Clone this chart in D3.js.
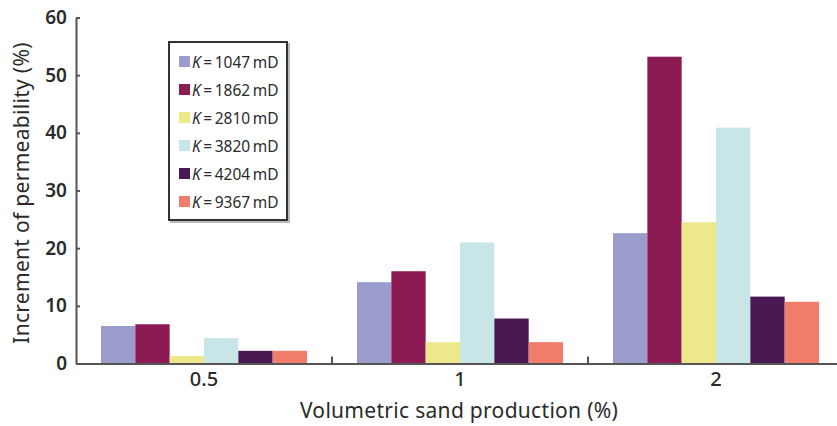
<!DOCTYPE html>
<html>
<head>
<meta charset="utf-8">
<script src="https://cdn.jsdelivr.net/npm/d3@7"></script>
<style>
  body { margin: 0; background: #fff; }
  text { font-family: "Noto Sans", "Open Sans", Arial, sans-serif; fill: #2b2b2b; }
</style>
</head>
<body>
<div id="chart"></div>
<script>
// categories and series
var categories = ['0.5', '1', '2'];
var seriesNames = ['1047', '1862', '2810', '3820', '4204', '9367'];
var seriesColors = ['#9a9ccb', '#8b1b52', '#efe88a', '#c8e6e8', '#4a1852', '#f07c6a'];
var yTicks = [0, 10, 20, 30, 40, 50, 60];

// values per series, one per category
var k1047 = [6.5, 14.1, 22.6];
var k1862 = [6.8, 16.0, 53.2];
var k2810 = [1.3, 3.7, 24.5];
var k3820 = [4.4, 21.0, 40.9];
var k4204 = [2.2, 7.8, 11.6];
var k9367 = [2.2, 3.7, 10.7];
var values = [k1047, k1862, k2810, k3820, k4204, k9367];

var w = 837, h = 426;

var svg = d3.select('#chart').append('svg')
  .attr('width', w)
  .attr('height', h);

var x0 = d3.scaleBand()
  .domain(categories)
  .range([76, 844])
  .padding(0);

var x1 = d3.scaleBand()
  .domain(seriesNames)
  .range([25, x0.bandwidth() - 25])
  .padding(0);

var y = d3.scaleLinear()
  .domain([0, 60])
  .range([363.5, 17.5]);

// bars
var data = [];
values.forEach(function(vals, s) {
  vals.forEach(function(v, c) {
    data.push({ cat: categories[c], name: seriesNames[s], color: seriesColors[s], value: v });
  });
});

svg.append('g').selectAll('rect')
  .data(data)
  .enter().append('rect')
  .attr('x', function(d) { return x0(d.cat) + x1(d.name); })
  .attr('y', function(d) { return y(d.value); })
  .attr('width', x1.bandwidth())
  .attr('height', function(d) { return y(0) - y(d.value); })
  .attr('fill', function(d) { return d.color; });

// y axis
var yAxis = svg.append('g')
  .attr('transform', 'translate(76,0)')
  .call(d3.axisLeft(y).tickValues(yTicks).tickSizeInner(-4).tickSizeOuter(0).tickPadding(9));
yAxis.select('.domain').attr('stroke', '#555').attr('stroke-width', 2);
yAxis.selectAll('.tick line').attr('stroke', '#555').attr('stroke-width', 2);
yAxis.selectAll('.tick text')
  .style('font-size', '19px')
  .style('font-weight', '600')
  .attr('fill', '#333');

// x axis
var xAxis = svg.append('g')
  .attr('transform', 'translate(0,' + y(0) + ')')
  .call(d3.axisBottom(x0).tickSize(0).tickPadding(8));
xAxis.select('.domain').attr('stroke', '#555').attr('stroke-width', 2);
xAxis.selectAll('.tick text')
  .style('font-size', '20px')
  .style('font-weight', '500')
  .attr('fill', '#333');

// separators between categories
svg.append('g').selectAll('line')
  .data(categories.slice(1))
  .enter().append('line')
  .attr('x1', function(d) { return x0(d); })
  .attr('x2', function(d) { return x0(d); })
  .attr('y1', y(0) - 7)
  .attr('y2', y(0))
  .attr('stroke', '#555')
  .attr('stroke-width', 2);

// axis titles
svg.append('text')
  .attr('transform', 'translate(29,' + 193 + ') rotate(-90)')
  .attr('text-anchor', 'middle')
  .style('font-size', '21px')
  .style('letter-spacing', '0.3px')
  .text('Increment of permeability (%)');

svg.append('text')
  .attr('x', 459)
  .attr('y', 418)
  .attr('text-anchor', 'middle')
  .style('font-size', '21px')
  .style('letter-spacing', '0.3px')
  .text('Volumetric sand production (%)');

// legend
var legend = svg.append('g').attr('transform', 'translate(169,42)');
legend.append('rect')
  .attr('x', 2).attr('y', 2)
  .attr('width', 118).attr('height', 178)
  .attr('fill', 'none')
  .attr('stroke', '#bbb')
  .attr('stroke-width', 2);
legend.append('rect')
  .attr('width', 118).attr('height', 178)
  .attr('fill', '#fff')
  .attr('stroke', '#333')
  .attr('stroke-width', 2);

var items = legend.selectAll('g.item')
  .data(seriesNames)
  .enter().append('g')
  .attr('class', 'item')
  .attr('transform', function(d, i) { return 'translate(10,' + (20 + i * 28) + ')'; });

items.append('rect')
  .attr('x', 0).attr('y', -6)
  .attr('width', 11).attr('height', 11)
  .attr('fill', function(d, i) { return seriesColors[i]; });

var lt = items.append('text')
  .attr('x', 13)
  .attr('y', 5.5)
  .style('font-size', '15.5px')
  .attr('fill', '#222');
lt.append('tspan').style('font-style', 'italic').text('K');
lt.append('tspan').text(function(d) { return '\u2009=\u2009' + d + '\u2009mD'; });
</script>
</body>
</html>
